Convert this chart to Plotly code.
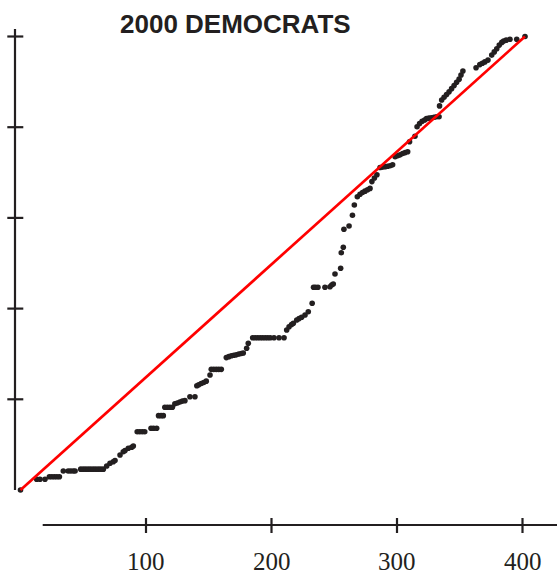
import plotly.graph_objects as go

# Cumulative curve: position along the ordering vs. cumulative share
rank = [
    0,
    12.9, 15.5, 19.5,
    23, 25, 27, 29, 31,
    34.1,
    38, 40, 42, 43.5,
    48, 50, 52, 54, 56, 58, 60, 62, 64, 66,
    68.7, 71.3, 73.9, 75.3, 79.3, 81.9, 83.3, 85.9, 88.6, 89.9,
    93, 95, 97, 99,
    104, 106, 108.5,
    110, 112, 113.8,
    115, 117, 119, 121,
    123, 125, 127, 129, 131,
    135, 139,
    140.5, 142, 144, 146, 148,
    151,
    152, 154, 156, 158, 160,
    164, 166, 168, 170, 172, 174, 176, 177.5,
    180.2, 181.5,
    185, 187, 189, 191, 193, 195, 197, 199, 202, 206, 210,
    212.1, 214, 216, 217.4, 220.1, 222, 224, 226.7, 229.3, 232.4,
    233.5, 235, 237, 242.6, 246.6, 248, 249.2,
    250.6, 255.1,
    255.6, 257.2,
    257.7, 261.8,
    264.5, 266,
    268.4, 270.5, 272.5, 274.5, 276.5, 278.5,
    280, 282, 284,
    286.5, 288.5, 290.5, 292.5, 294.5, 296.5,
    298.5, 300.5, 302.5, 304.5, 306.5, 308.5,
    310, 314.3,
    316, 318, 320, 322,
    323.5, 325.5, 327.5, 329.5, 331.5, 333.5,
    333.9,
    335.6, 337.5, 339.5, 341.5, 343.5, 345.5, 347.5, 349.5, 351, 352.5,
    363,
    366, 368, 370, 372.5,
    375.5, 377.5, 379.5, 381.5, 383.5,
    385, 387, 390, 395.4,
    402,
]

share = [
    0,
    0.0236, 0.0236, 0.0236,
    0.0293, 0.0293, 0.0293, 0.0293, 0.0293,
    0.0419,
    0.0419, 0.0419, 0.0419, 0.0419,
    0.046, 0.046, 0.046, 0.046, 0.046, 0.046, 0.046, 0.046, 0.046, 0.046,
    0.053, 0.059, 0.0624, 0.065, 0.0772, 0.0845, 0.087, 0.092, 0.0942, 0.097,
    0.1286, 0.1286, 0.1286, 0.1286,
    0.1361, 0.1361, 0.1361,
    0.164, 0.164, 0.164,
    0.1824, 0.1824, 0.1824, 0.1824,
    0.190, 0.192, 0.194, 0.196, 0.197,
    0.2057, 0.2057,
    0.230, 0.232, 0.235, 0.237, 0.240,
    0.2536,
    0.266, 0.266, 0.266, 0.266, 0.266,
    0.292, 0.294, 0.296, 0.297, 0.298, 0.300, 0.301, 0.302,
    0.3125, 0.3235,
    0.3358, 0.3358, 0.3358, 0.3358, 0.3358, 0.3358, 0.3358, 0.3358, 0.3358, 0.3358, 0.3358,
    0.3528, 0.360, 0.365, 0.3676, 0.3749, 0.378, 0.381, 0.3859, 0.3932, 0.4117,
    0.447, 0.447, 0.447, 0.447, 0.4483, 0.452, 0.4542,
    0.4763, 0.4889,
    0.5233, 0.5352,
    0.5749, 0.5821,
    0.606, 0.6284,
    0.6468, 0.652, 0.656, 0.659, 0.662, 0.665,
    0.680, 0.688, 0.695,
    0.711, 0.712, 0.713, 0.714, 0.715, 0.717,
    0.735, 0.737, 0.739, 0.742, 0.744, 0.746,
    0.768, 0.780,
    0.801, 0.808, 0.813, 0.816,
    0.819, 0.820, 0.821, 0.822, 0.823, 0.823,
    0.847,
    0.860, 0.866, 0.872, 0.878, 0.885, 0.892, 0.899, 0.906, 0.915, 0.924,
    0.931,
    0.938, 0.941, 0.944, 0.948,
    0.959, 0.966, 0.973, 0.981, 0.987,
    0.990, 0.992, 0.994, 0.994,
    1.0,
]

assert len(rank) == len(share)

title_text = "2000 DEMOCRATS"
x_ticks = [100, 200, 300, 400]
x_tick_labels = ["100", "200", "300", "400"]
y_ticks = [0.2, 0.4, 0.6, 0.8, 1.0]

INK = "#231f20"
W, H = 557, 578

# Linear pixel <-> data mapping of the full-canvas plot area
X0_PX, X_SCALE = 20.5, 1.255
Y0_PX, Y_SCALE = 490.0, 453.5


def px_x(px):
    return (px - X0_PX) / X_SCALE


def px_y(py):
    return (Y0_PX - py) / Y_SCALE


fig = go.Figure()

fig.add_trace(go.Scatter(
    x=rank, y=share, mode="markers",
    marker=dict(size=5.6, color=INK, line=dict(width=0)),
    hoverinfo="skip", showlegend=False,
))

# Equality diagonal from the origin to the last point
fig.add_trace(go.Scatter(
    x=[0, rank[-1]], y=[0, share[-1]], mode="lines",
    line=dict(color="#ff0000", width=2.7),
    hoverinfo="skip", showlegend=False,
))

shapes = []
# Left axis line and cross ticks
shapes.append(dict(type="line", xref="x", yref="y",
                   x0=px_x(15), x1=px_x(15), y0=0, y1=px_y(29),
                   line=dict(color=INK, width=2.2)))
for v in y_ticks:
    shapes.append(dict(type="line", xref="x", yref="y",
                       x0=px_x(7.3), x1=px_x(23.3), y0=v, y1=v,
                       line=dict(color=INK, width=2.2)))
# Bottom axis line and cross ticks
x_axis_y = px_y(525)
shapes.append(dict(type="line", xref="x", yref="y",
                   x0=px_x(42.7), x1=px_x(W + 5), y0=x_axis_y, y1=x_axis_y,
                   line=dict(color=INK, width=2.2)))
for t in x_ticks:
    shapes.append(dict(type="line", xref="x", yref="y",
                       x0=t, x1=t, y0=px_y(518), y1=px_y(533),
                       line=dict(color=INK, width=2.2)))

annotations = []
for t, lab in zip(x_ticks, x_tick_labels):
    annotations.append(dict(
        x=t, y=px_y(561.5), xref="x", yref="y", text=lab, showarrow=False,
        xanchor="center", yanchor="middle",
        font=dict(family="Liberation Serif, Times New Roman, serif", size=25, color=INK),
    ))
annotations.append(dict(
    x=px_x(235), y=px_y(24), xref="x", yref="y", text="<b>" + title_text + "</b>",
    showarrow=False, xanchor="center", yanchor="middle",
    font=dict(family="Liberation Sans, Arial, sans-serif", size=26, color=INK),
))

fig.update_layout(
    width=W, height=H,
    margin=dict(l=0, r=0, t=0, b=0),
    paper_bgcolor="white", plot_bgcolor="white",
    xaxis=dict(range=[px_x(0), px_x(W)], visible=False, fixedrange=True),
    yaxis=dict(range=[px_y(H), px_y(0)], visible=False, fixedrange=True),
    shapes=shapes, annotations=annotations,
)

fig.write_html("out.html")
